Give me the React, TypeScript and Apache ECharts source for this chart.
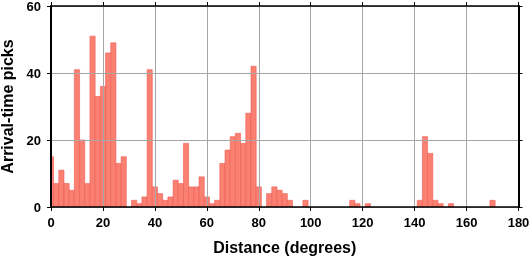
import React, { useEffect, useRef } from "react";
import * as echarts from "echarts";

const binCenters = [0, 2, 4, 6, 8, 10, 12, 14, 16, 18, 20, 22, 24, 26, 28, 32, 34, 36, 38, 40, 42, 44, 46, 48, 50, 52, 54, 56, 58, 60, 62, 64, 66, 68, 70, 72, 74, 76, 78, 80, 84, 86, 88, 90, 92, 98, 116, 118, 122, 142, 144, 146, 148, 150, 154, 170];
const pickCounts = [15, 7, 11, 7, 5, 41, 20, 7, 51, 33, 36, 46, 49, 13, 15, 2, 1, 3, 41, 6, 4, 2, 3, 8, 7, 19, 6, 6, 9, 3, 1, 2, 13, 17, 21, 22, 19, 28, 42, 6, 4, 6, 5, 4, 2, 2, 2, 1, 1, 2, 21, 16, 2, 1, 1, 2];
const binWidth = 2;
const xTicks = { min: 0, max: 180, interval: 20 };
const yTicks = { min: 0, max: 60, interval: 20 };
const xTitle = "Distance (degrees)";
const yTitle = "Arrival-time picks";

const FONT = "'Liberation Sans', Arial, Helvetica, sans-serif";

export default function App() {
  const ref = useRef<HTMLDivElement>(null);
  useEffect(() => {
    if (!ref.current) return;
    const chart = echarts.init(ref.current, undefined, { renderer: "svg" });
    const data = binCenters.map((c, i) => [c, pickCounts[i]]);
    const frameAxis = (w: number) => ({
      axisLine: { show: true, onZero: false, lineStyle: { color: "#000", width: w } },
      axisTick: { show: true, inside: false, length: 4, lineStyle: { color: "#000", width: 1 } },
    });
    chart.setOption({
      animation: false,
      grid: { left: 51, right: 12.5, top: 6, bottom: 51, containLabel: false, outerBoundsMode: "none" },
      xAxis: [
        {
          type: "value",
          ...xTicks,
          position: "bottom",
          ...frameAxis(1.5),
          splitLine: { show: true, lineStyle: { color: "#a6a6a6", width: 1 } },
          axisLabel: { margin: 9, fontFamily: FONT, fontWeight: "bold", fontSize: 13, color: "#000" },
          name: xTitle,
          nameLocation: "middle",
          nameGap: 32,
          nameTextStyle: { fontFamily: FONT, fontWeight: "bold", fontSize: 16, color: "#000" },
          z: 5,
        },
        {
          type: "value",
          ...xTicks,
          position: "top",
          ...frameAxis(1.5),
          splitLine: { show: false },
          axisLabel: { show: false },
          z: 5,
        },
      ],
      yAxis: [
        {
          type: "value",
          ...yTicks,
          position: "left",
          ...frameAxis(2),
          splitLine: { show: true, lineStyle: { color: "#a6a6a6", width: 1 } },
          axisLabel: { margin: 10, fontFamily: FONT, fontWeight: "bold", fontSize: 13, color: "#000" },
          name: yTitle,
          nameLocation: "middle",
          nameRotate: 90,
          nameGap: 35,
          nameTextStyle: { fontFamily: FONT, fontWeight: "bold", fontSize: 16, color: "#000" },
          z: 5,
        },
        {
          type: "value",
          ...yTicks,
          position: "right",
          ...frameAxis(2),
          splitLine: { show: false },
          axisLabel: { show: false },
          z: 5,
        },
      ],
      series: [
        {
          type: "custom",
          xAxisIndex: 0,
          yAxisIndex: 0,
          data,
          clip: true,
          z: 1,
          renderItem: (params: any, api: any) => {
            const x = api.value(0);
            const v = api.value(1);
            const p0 = api.coord([x - binWidth / 2, v]);
            const p1 = api.coord([x + binWidth / 2, 0]);
            const cs = params.coordSys;
            const shape = echarts.graphic.clipRectByRect(
              { x: p0[0], y: p0[1], width: p1[0] - p0[0], height: p1[1] - p0[1] },
              { x: cs.x, y: cs.y, width: cs.width, height: cs.height }
            );
            if (!shape) return null;
            return {
              type: "rect",
              shape,
              style: { fill: "#FA8072", stroke: "#F05A55", lineWidth: 0.6 },
            };
          },
        },
      ],
    });
    return () => chart.dispose();
  }, []);
  return <div ref={ref} style={{ position: "fixed", left: 0, top: 0, width: 531, height: 258 }} />;
}
